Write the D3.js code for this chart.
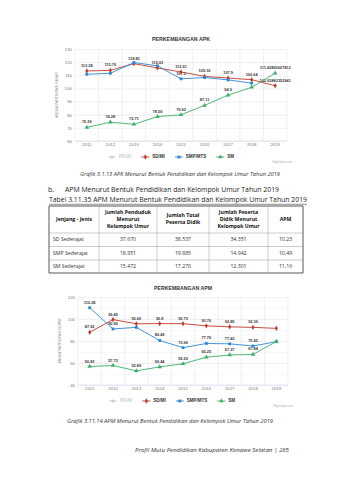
<!DOCTYPE html>
<html><head><meta charset="utf-8">
<script src="https://cdn.jsdelivr.net/npm/d3@7"></script>
<style>html,body{margin:0;padding:0;background:#fff;}svg{display:block}</style>
</head><body>
<svg id="c" width="338" height="480"></svg>
<script>
// ---------- DATA ----------
const years = ["2011","2012","2013","2014","2015","2016","2017","2018","2019"];
const seriesNames = ["PAUD","SD/MI","SMP/MTS","SM"];

const apkSD  = [113.28,113.76,118.83,115.63,112.51,109.16,107.9,106.64,102.05882352941];
const apkSMP = [110.8,111.5,119.7,117.2,107.3,108.3,106.5,104.0,null];
const apkSM  = [70.39,74.28,72.71,78.56,79.93,87.11,94.9,100.9,111.62890027812];
const apkSDShow  = [1,1,1,1,1,1,1,1,1];
const apkSMPShow = [0,0,0,0,1,0,0,0,0];
const apkSMShow  = [1,1,1,1,1,1,1,0,1];
const apkTicks = [60,70,80,90,100,110,120,130];

const apmSD  = [87.92,99.45,95.66,95.8,95.79,93.76,92.85,92.39,91.5];
const apmSMP = [110.28,90.95,92.4,80.49,73.96,77.76,77.43,75.45,79.4];
const apmSM  = [56.83,57.72,52.89,56.44,59.29,65.25,67.27,67.84,79.4];
const apmSDShow  = [1,1,1,1,1,1,1,1,0];
const apmSMPShow = [1,1,0,1,1,1,1,1,0];
const apmSMShow  = [1,1,1,1,1,1,1,1,0];
const apmTicks = [40,60,80,100,120];
const apmMinor = [50,70,90,110];

const tableHead = [["Jenjang - Jenis"],["Jumlah Penduduk","Menurut","Kelompok Umur"],["Jumlah Total","Peserta Didik"],["Jumlah Peserta","Didik Menurut","Kelompok Umur"],["APM"]];
const tableJenjang = ["SD Sederajat","SMP Sederajat","SM Sederajat"];
const tablePenduduk = ["37.670","18.951","15.472"];
const tableTotal = ["38.537","19.885","17.270"];
const tablePeserta = ["34.351","14.942","12.301"];
const tableAPM = ["10,23","10,49","11,16"];

// ---------- STYLE ----------
const colors = {"PAUD":"#cccccc","SD/MI":"#c0392b","SMP/MTS":"#2f86d8","SM":"#3cae6a"};
const symbols = {"PAUD":d3.symbolCircle,"SD/MI":d3.symbolDiamond,"SMP/MTS":d3.symbolSquare,"SM":d3.symbolTriangle};
const CF = "'Liberation Sans', Arial, sans-serif";
const DF = "'Open Sans','Liberation Sans', sans-serif";

const svg = d3.select("#c");

function txt(x,y,s,o={}){
  const t = svg.append("text").attr("x",x).attr("y",y).text(s)
    .attr("font-family",o.ff||DF).attr("font-size",o.fs||6)
    .attr("fill",o.fill||"#222").attr("text-anchor",o.anchor||"start")
    .attr("dominant-baseline","middle");
  if(o.bold) t.attr("font-weight","bold");
  if(o.italic) t.attr("font-style","italic");
  if(o.len) t.attr("textLength",o.len).attr("lengthAdjust","spacingAndGlyphs");
  return t;
}

function drawChart(cfg){
  const g = svg.append("g");
  const x = d3.scaleBand().domain(years).range([cfg.x0,cfg.x1]);
  const y = d3.scaleLinear().domain(cfg.domain).range([cfg.yBot,cfg.yTop]);
  const W = cfg.x1-cfg.x0;

  txt((cfg.x0+cfg.x1)/2, cfg.titleY, cfg.title, {ff:CF,fs:6,bold:true,fill:"#333",anchor:"middle",len:58});

  if(cfg.minor){
    g.append("g").attr("transform",`translate(${cfg.x0},0)`)
      .call(d3.axisLeft(y).tickValues(cfg.minor).tickSize(-W).tickFormat(""))
      .call(s=>s.select(".domain").remove())
      .selectAll("line").attr("stroke","#f0f0f0").attr("stroke-width",0.5);
  }
  g.append("g").attr("transform",`translate(${cfg.x0},0)`)
    .call(d3.axisLeft(y).tickValues(cfg.ticks).tickSize(-W).tickFormat(""))
    .call(s=>s.select(".domain").remove())
    .selectAll("line").attr("stroke","#e6e6e6").attr("stroke-width",0.6);
  const edges = years.map(d=>x(d)).concat([cfg.x1]);
  g.selectAll(".vg").data(edges).join("line")
    .attr("x1",d=>d).attr("x2",d=>d).attr("y1",cfg.yTop).attr("y2",cfg.yBot)
    .attr("stroke","#e6e6e6").attr("stroke-width",0.6);

  const ya = g.append("g").attr("transform",`translate(${cfg.x0-3},0)`)
    .call(d3.axisLeft(y).tickValues(cfg.ticks).tickSize(0).tickPadding(0));
  ya.select(".domain").remove();
  ya.selectAll("text").attr("font-size",4.3).attr("fill","#777").attr("font-family",CF);

  g.append("line").attr("x1",cfg.x0).attr("x2",cfg.x1).attr("y1",cfg.yBot).attr("y2",cfg.yBot)
    .attr("stroke","#ccd6eb").attr("stroke-width",0.6);
  const xa = g.append("g").attr("transform",`translate(0,${cfg.yBot+2})`)
    .call(d3.axisBottom(x).tickSize(0).tickPadding(0));
  xa.select(".domain").remove();
  xa.selectAll("text").attr("font-size",4.3).attr("fill","#777").attr("font-family",CF);

  const yc = (cfg.yTop+cfg.yBot)/2;
  svg.append("text").attr("transform",`translate(${cfg.yTitleX},${yc}) rotate(-90)`)
    .attr("text-anchor","middle").attr("dominant-baseline","middle")
    .attr("font-family",CF).attr("font-size",3.4).attr("fill","#888").text(cfg.yTitle);

  const line = d3.line().defined(d=>d.v!=null).x(d=>x(d.k)+x.bandwidth()/2).y(d=>y(d.v));
  const labelLayer = g.append("g");
  cfg.series.forEach(s=>{
    const pts = years.map((k,i)=>({k,v:s.values[i],show:s.show[i]}));
    g.append("path").datum(pts).attr("d",line).attr("fill","none")
      .attr("stroke",colors[s.name]).attr("stroke-width",0.9);
    g.selectAll(null).data(pts.filter(d=>d.v!=null)).join("path")
      .attr("d",d3.symbol().type(symbols[s.name]).size(s.name==="SM"?9:8))
      .attr("transform",d=>`translate(${x(d.k)+x.bandwidth()/2},${y(d.v)})`)
      .attr("fill",colors[s.name]);
    pts.filter(d=>d.v!=null && d.show).forEach(d=>{
      const cx = x(d.k)+x.bandwidth()/2;
      const t = labelLayer.append("text").attr("x",cx).attr("y",y(d.v)-5)
        .attr("text-anchor","middle").attr("dominant-baseline","middle")
        .attr("font-family",CF).attr("font-size",3.9).attr("font-weight","bold")
        .attr("fill","#333").attr("stroke","#fff").attr("stroke-width",1)
        .attr("paint-order","stroke").text(String(d.v));
      const w = t.node().getComputedTextLength();
      if(cx + w/2 > cfg.x1+7){ t.attr("x", cfg.x1+7-w/2); }
    });
  });

  // legend
  const lg = svg.append("g");
  let lx = 0;
  const items = [];
  seriesNames.forEach(n=>{
    const it = lg.append("g").attr("transform",`translate(${lx},0)`);
    it.append("line").attr("x1",0).attr("x2",8).attr("y1",0).attr("y2",0).attr("stroke",colors[n]).attr("stroke-width",0.9);
    it.append("path").attr("d",d3.symbol().type(symbols[n]).size(8)).attr("transform","translate(4,0)").attr("fill",colors[n]);
    const t = it.append("text").attr("x",11).attr("y",0).attr("dominant-baseline","middle")
      .attr("font-family",CF).attr("font-size",4.5).attr("font-weight","bold")
      .attr("fill",n==="PAUD"?"#cccccc":"#333").text(n);
    lx += 11 + t.node().getComputedTextLength() + 10;
  });
  const lw = lx-10;
  lg.attr("transform",`translate(${cfg.legendCX - lw/2},${cfg.legendY})`);

  txt(cfg.x1+5, cfg.creditY, "Highcharts.com", {ff:CF,fs:2.8,fill:"#aaa",anchor:"end"});
}

// ---------- CHART 1 : APK ----------
drawChart({
  title:"PERKEMBANGAN APK", titleY:39,
  x0:75, x1:287, yTop:49, yBot:141, domain:[60,130], ticks:apkTicks,
  yTitle:"ANGKA PARTISIPASI KASAR", yTitleX:57,
  series:[
    {name:"SD/MI", values:apkSD, show:apkSDShow},
    {name:"SMP/MTS", values:apkSMP, show:apkSMPShow},
    {name:"SM", values:apkSM, show:apkSMShow}
  ],
  legendCX:171, legendY:157, creditY:162
});

txt(180,175,"Grafik 3.1.13 APK Menurut Bentuk Pendidikan dan Kelompok Umur Tahun 2019",{fs:5.3,italic:true,fill:"#333",anchor:"middle",len:200});
txt(48,190,"b.",{fs:7,fill:"#222"});
txt(65,190,"APM Menurut Bentuk Pendidikan dan Kelompok Umur Tahun 2019",{fs:7,fill:"#222",len:214});
txt(49,200,"Tabel 3.11.35 APM Menurut Bentuk Pendidikan dan Kelompok Umur Tahun 2019",{fs:7,fill:"#222",len:258});
svg.append("line").attr("x1",49).attr("x2",307).attr("y1",204.3).attr("y2",204.3).attr("stroke","#222").attr("stroke-width",0.5);

// ---------- TABLE ----------
const colX = [49,99,157,209,268,303];
const rowY = [206,233,246.5,260,273];
const tb = svg.append("g");
rowY.forEach((ry,i)=>tb.append("line").attr("x1",colX[0]).attr("x2",colX[5]).attr("y1",ry).attr("y2",ry)
  .attr("stroke",(i===0||i===rowY.length-1)?"#444":"#999").attr("stroke-width",(i===0||i===rowY.length-1)?0.9:0.5));
colX.forEach((cx,i)=>tb.append("line").attr("x1",cx).attr("x2",cx).attr("y1",rowY[0]).attr("y2",rowY[rowY.length-1])
  .attr("stroke",(i===0||i===colX.length-1)?"#444":"#999").attr("stroke-width",(i===0||i===colX.length-1)?0.9:0.5));
tableHead.forEach((lines,c)=>{
  const cx=(colX[c]+colX[c+1])/2, cy=(rowY[0]+rowY[1])/2;
  lines.forEach((l,j)=>txt(cx, cy+(j-(lines.length-1)/2)*7, l, {fs:5.2,bold:true,fill:"#111",anchor:"middle"}));
});
const cols = [tableJenjang,tablePenduduk,tableTotal,tablePeserta,tableAPM];
tableJenjang.forEach((_,r)=>{
  const cy=(rowY[r+1]+rowY[r+2])/2;
  cols.forEach((arr,c)=>{
    if(c===0) txt(colX[0]+4, cy, arr[r], {fs:5.2,fill:"#333"});
    else txt((colX[c]+colX[c+1])/2, cy, arr[r], {fs:5.2,fill:"#333",anchor:"middle"});
  });
});

// ---------- CHART 2 : APM ----------
drawChart({
  title:"PERKEMBANGAN APM", titleY:288,
  x0:78, x1:288, yTop:297, yBot:385, domain:[40,120], ticks:apmTicks, minor:apmMinor,
  yTitle:"ANGKA PARTISIPASI MURNI", yTitleX:60,
  series:[
    {name:"SD/MI", values:apmSD, show:apmSDShow},
    {name:"SMP/MTS", values:apmSMP, show:apmSMPShow},
    {name:"SM", values:apmSM, show:apmSMShow}
  ],
  legendCX:172, legendY:401, creditY:406
});

txt(170,422,"Grafik 3.11.14 APM Menurut Bentuk Pendidikan dan Kelompok Umur Tahun 2019",{fs:5.3,italic:true,fill:"#333",anchor:"middle",len:206});
txt(289,451,"Profil Mutu Pendidikan Kabupaten Konawe Selatan | 285",{fs:5.5,italic:true,fill:"#333",anchor:"end",len:154});
</script>
</body></html>
